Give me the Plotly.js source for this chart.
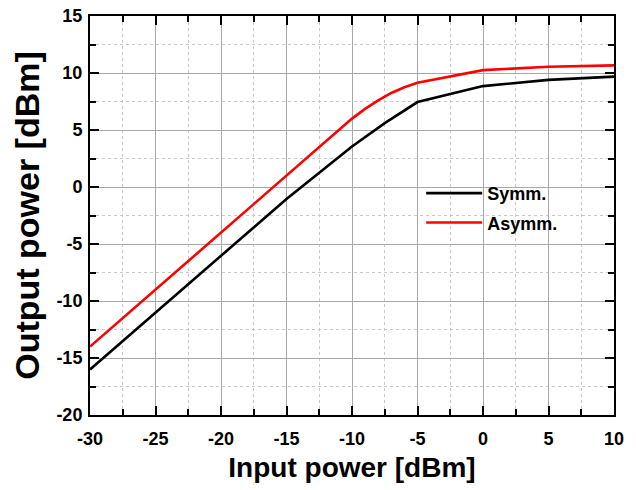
<!DOCTYPE html>
<html>
<head>
<meta charset="utf-8">
<script src="https://cdn.plot.ly/plotly-3.0.1.min.js"></script>
<style>
html,body{margin:0;padding:0;background:#fff;}
#chart{width:636px;height:490px;}
#chart .xtick text, #chart .ytick text, #chart .legendtext { font-weight: bold !important; }
</style>
</head>
<body>
<div id="chart"></div>
<script>
const symmX = [-30, -25, -20, -15, -12.5, -10, -7.5, -5, 0, 5, 10];
const symmY = [-16, -11, -6, -1.05, 1.25, 3.55, 5.6, 7.45, 8.85, 9.4, 9.68];
const asymX = [-30, -25, -20, -15, -12.5, -11, -10, -9, -8, -7, -6, -5, -2.5, 0, 5, 10];
const asymY = [-14, -9, -4, 1.0, 3.55, 5.05, 6.0, 6.85, 7.6, 8.25, 8.75, 9.15, 9.7, 10.25, 10.55, 10.67];
const seriesNames = ["Symm.", "Asymm."];
const xTickVals = [-30, -25, -20, -15, -10, -5, 0, 5, 10];
const yTickVals = [-20, -15, -10, -5, 0, 5, 10, 15];

const FONT = "Arial, 'Liberation Sans', sans-serif";

const traces = [
  {x: symmX, y: symmY, name: seriesNames[0], legendgroup: 'g1', mode: 'lines', line: {color: '#000000', width: 2.6}},
  {x: asymX, y: asymY, name: seriesNames[1], legendgroup: 'g2', mode: 'lines', line: {color: '#ff0000', width: 2.6}}
];

const axisCommon = {
  showline: true, linecolor: '#000', linewidth: 2, mirror: 'allticks',
  ticks: 'inside', ticklen: 9, tickwidth: 2, tickcolor: '#000',
  showgrid: true, gridcolor: '#a8a8a8', gridwidth: 1,
  zeroline: false,
  tickfont: {family: FONT, size: 18, color: '#000', weight: 700},
  minor: {ticks: 'inside', ticklen: 6, tickwidth: 2, tickcolor: '#000', showgrid: true, gridcolor: '#c8c8c8', griddash: 'dot', gridwidth: 1}
};

const layout = {
  width: 636, height: 490,
  margin: {l: 90, r: 22, t: 16, b: 75},
  paper_bgcolor: '#fff', plot_bgcolor: '#fff',
  showlegend: true,
  legend: {x: 0.632, y: 0.519, xanchor: 'left', yanchor: 'middle', bgcolor: 'rgba(0,0,0,0)',
    itemwidth: 56, tracegroupgap: 3, font: {family: FONT, size: 18, color: '#000', weight: 700}},
  xaxis: Object.assign({}, axisCommon, {
    range: [-30, 10], tickmode: 'array', tickvals: xTickVals, ticktext: xTickVals.map(String),
    ticklabelstandoff: 6,
    minor: Object.assign({}, axisCommon.minor, {dtick: 2.5, tick0: -30}),
    title: {text: 'Input power [dBm]', font: {family: FONT, size: 28, color: '#000', weight: 700}, standoff: 10}
  }),
  yaxis: Object.assign({}, axisCommon, {
    range: [-20, 15], tickmode: 'array', tickvals: yTickVals, ticktext: yTickVals.map(String),
    ticklabelstandoff: 2,
    minor: Object.assign({}, axisCommon.minor, {dtick: 2.5, tick0: -20}),
    title: {text: 'Output power [dBm]', font: {family: FONT, size: 34, color: '#000', weight: 700}, standoff: 6}
  })
};

Plotly.newPlot('chart', traces, layout, {displayModeBar: false, staticPlot: true});
</script>
</body>
</html>
